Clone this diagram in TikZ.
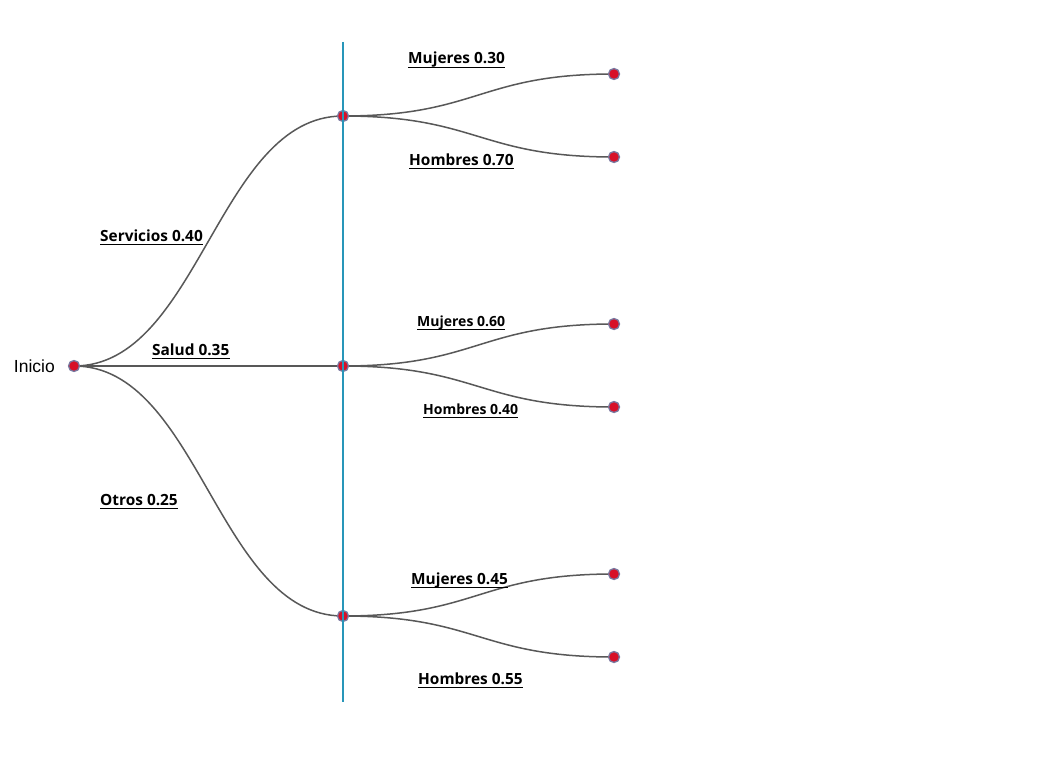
\documentclass[tikz,border=0pt]{standalone}
\usepackage{fontspec}
\setmainfont{Liberation Sans}
\newfontfamily\lblfont{Open Sans}
\definecolor{branch}{RGB}{88,88,88}
\definecolor{dotred}{RGB}{215,16,40}
\definecolor{dotrim}{RGB}{120,120,160}
\definecolor{axisline}{RGB}{40,150,185}
\tikzset{
  dot/.style={circle,fill=dotred,draw=dotrim,line width=1.3pt,minimum size=11pt,inner sep=0pt},
  branchline/.style={draw=branch,line width=1.5pt},
  lbl/.style={inner sep=0pt,anchor=base west,font=\lblfont\bfseries\fontsize{15.4}{17}\selectfont},
  lblsmall/.style={inner sep=0pt,anchor=base west,font=\lblfont\bfseries\fontsize{14}{16}\selectfont},
  ulline/.style={draw=black,line width=1.1pt},
}
\newcommand\ulabel[4]{%
  \node[#1] (#2) at (#3) {#4};
  \draw[ulline] ([yshift=-3.5pt]#2.base west) -- ([yshift=-3.5pt]#2.base east);
}
\begin{document}
\begin{tikzpicture}[x=1pt,y=-1pt]
\useasboundingbox[fill=white] (0,0) rectangle (1041,765);
% coordinates
\coordinate (ini) at (74,366);
\coordinate (m1) at (343,116);
\coordinate (m2) at (343,366);
\coordinate (m3) at (343,616);
\coordinate (l1) at (614,74);
\coordinate (l2) at (614,157);
\coordinate (l3) at (614,324);
\coordinate (l4) at (614,407);
\coordinate (l5) at (614,574);
\coordinate (l6) at (614,657);
\coordinate (vtop) at (343,42);
\coordinate (vbot) at (343,702);
% branches
\draw[branchline] (ini) .. controls +(125,0) and +(-125,0) .. (m1);
\draw[branchline] (ini) -- (m2);
\draw[branchline] (ini) .. controls +(125,0) and +(-125,0) .. (m3);
\foreach \m/\a/\b in {m1/l1/l2, m2/l3/l4, m3/l5/l6}{
  \draw[branchline] (\m) .. controls +(135,0) and +(-135,0) .. (\a);
  \draw[branchline] (\m) .. controls +(135,0) and +(-135,0) .. (\b);
}
% dots
\foreach \p in {ini,m1,m2,m3,l1,l2,l3,l4,l5,l6}{
  \node[dot] (d\p) at (\p) {};
}
% vertical line
\draw[axisline,line width=1.4pt] (vtop) -- (vbot);
% start label
\node[font=\fontsize{17.5}{20}\selectfont,anchor=east,inner sep=0pt] (inicio) at (55,366) {Inicio};
% labels
\ulabel{lbl}{t1}{408,64}{Mujeres 0.30}
\ulabel{lbl}{t2}{409,165}{Hombres 0.70}
\ulabel{lbl}{t3}{100,241}{Servicios 0.40}
\ulabel{lbl}{t4}{152,355}{Salud 0.35}
\ulabel{lblsmall}{t5}{417,326}{Mujeres 0.60}
\ulabel{lblsmall}{t6}{423,414}{Hombres 0.40}
\ulabel{lbl}{t7}{100,505}{Otros 0.25}
\ulabel{lbl}{t8}{411,584}{Mujeres 0.45}
\ulabel{lbl}{t9}{418,684}{Hombres 0.55}
\end{tikzpicture}
\end{document}
